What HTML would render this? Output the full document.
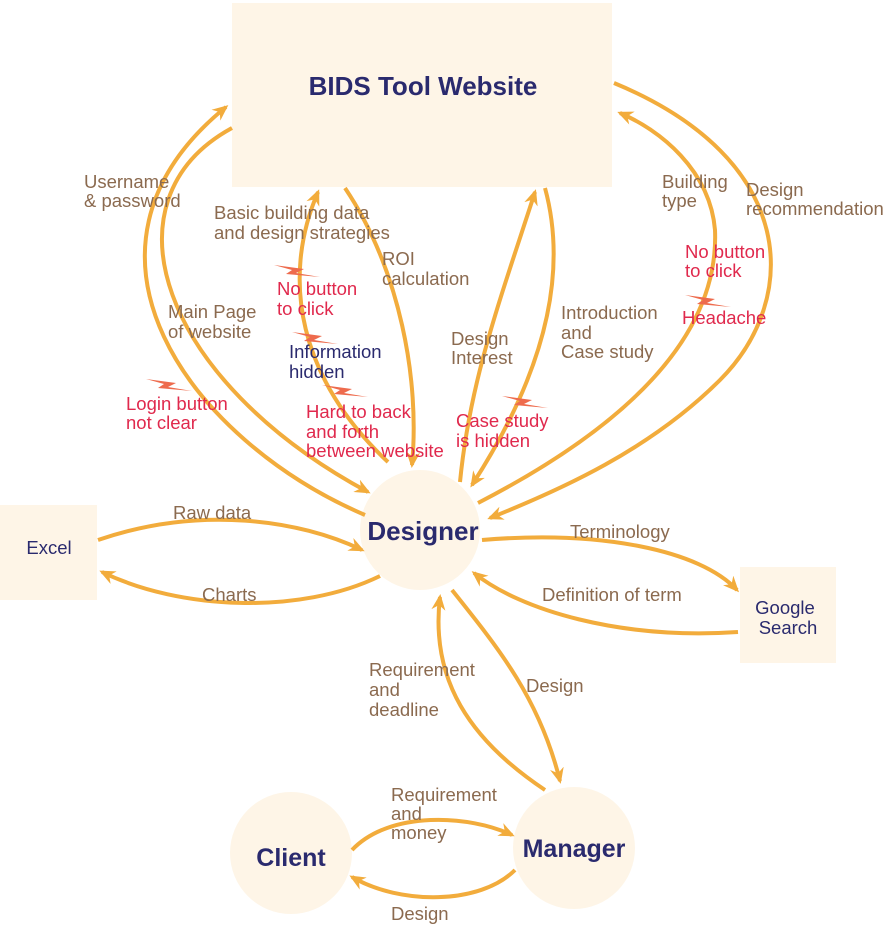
<!DOCTYPE html>
<html><head><style>body{margin:0;background:#fff}svg{display:block}</style></head><body>
<svg width="892" height="930" xmlns="http://www.w3.org/2000/svg" font-family="Liberation Sans, sans-serif">
<defs>
<marker id="a" viewBox="0 0 16 14" refX="13" refY="7" markerWidth="16" markerHeight="14" orient="auto" markerUnits="userSpaceOnUse">
<path d="M0,0 L16,7 L0,14 L5,7 Z" fill="#F2AC3C"/>
</marker>
<g id="z"><polygon points="0,0 30,4 22,8 46,12 12,9 18,5" fill="#EE6B4D"/></g>
</defs>
<rect x="232" y="3" width="380" height="184" fill="#FEF5E7"/>
<rect x="0" y="505" width="97" height="95" fill="#FEF5E7"/>
<rect x="740" y="567" width="96" height="96" fill="#FEF5E7"/>
<circle cx="420" cy="530" r="60" fill="#FEF5E7"/>
<circle cx="291" cy="853" r="61" fill="#FEF5E7"/>
<circle cx="574" cy="848" r="61" fill="#FEF5E7"/>
<g fill="none" stroke="#F2AC3C" stroke-width="4" marker-end="url(#a)">
<path d="M365,515 C190,440 50,250 226,107"/>
<path d="M232,128 C100,200 160,380 368,492"/>
<path d="M388,462 C300,380 280,280 318,192"/>
<path d="M345,188 C400,270 420,380 412,465"/>
<path d="M460,482 C470,380 500,300 535,192"/>
<path d="M545,188 C570,280 540,380 472,485"/>
<path d="M478,503 C600,440 720,350 715,230 C710,170 660,130 620,113"/>
<path d="M614,83 C800,160 800,300 720,380 C650,450 560,490 490,518"/>
<path d="M98,540 C200,505 300,520 362,550"/>
<path d="M380,576 C300,615 180,610 102,572"/>
<path d="M482,540 C600,530 700,550 737,590"/>
<path d="M738,632 C620,640 520,610 474,573"/>
<path d="M452,590 C500,650 540,700 560,781"/>
<path d="M545,790 C470,740 430,680 440,597"/>
<path d="M352,850 C390,810 470,815 512,835"/>
<path d="M515,870 C480,905 400,905 352,877"/>
</g>
<use href="#z" x="146" y="379"/>
<use href="#z" x="274" y="265"/>
<use href="#z" x="292" y="332"/>
<use href="#z" x="322" y="385"/>
<use href="#z" x="502" y="396"/>
<use href="#z" x="685" y="295"/>
<g font-weight="bold" fill="#2A2A6E">
<text x="423" y="95" font-size="26" text-anchor="middle">BIDS Tool Website</text>
<text x="423" y="540" font-size="26" text-anchor="middle">Designer</text>
<text x="291" y="866" font-size="25" text-anchor="middle">Client</text>
<text x="574" y="857" font-size="25" text-anchor="middle">Manager</text>
</g>
<g fill="#2A2A6E" font-size="18.5">
<text x="49" y="554" text-anchor="middle">Excel</text>
<text x="785" y="614" text-anchor="middle">Google</text>
<text x="788" y="634" text-anchor="middle">Search</text>
<text x="289" y="358">Information</text><text x="289" y="378">hidden</text>
</g>
<g fill="#8B6A4F" font-size="18.5">
<text x="84" y="188">Username</text><text x="84" y="207">&amp; password</text>
<text x="214" y="219">Basic building data</text><text x="214" y="239">and design strategies</text>
<text x="382" y="265">ROI</text><text x="382" y="285">calculation</text>
<text x="168" y="318">Main Page</text><text x="168" y="338">of website</text>
<text x="451" y="345">Design</text><text x="451" y="364">Interest</text>
<text x="561" y="319">Introduction</text><text x="561" y="339">and</text><text x="561" y="358">Case study</text>
<text x="662" y="188">Building</text><text x="662" y="207">type</text>
<text x="746" y="196">Design</text><text x="746" y="215">recommendation</text>
<text x="173" y="519">Raw data</text>
<text x="202" y="601">Charts</text>
<text x="570" y="538">Terminology</text>
<text x="542" y="601">Definition of term</text>
<text x="369" y="676">Requirement</text><text x="369" y="696">and</text><text x="369" y="716">deadline</text>
<text x="526" y="692">Design</text>
<text x="391" y="801">Requirement</text><text x="391" y="820">and</text><text x="391" y="839">money</text>
<text x="391" y="920">Design</text>
</g>
<g fill="#E0294D" font-size="18.5">
<text x="277" y="295">No button</text><text x="277" y="315">to click</text>
<text x="126" y="410">Login button</text><text x="126" y="429">not clear</text>
<text x="306" y="418">Hard to back</text><text x="306" y="438">and forth</text><text x="306" y="457">between website</text>
<text x="456" y="427">Case study</text><text x="456" y="447">is hidden</text>
<text x="685" y="258">No button</text><text x="685" y="277">to click</text>
<text x="682" y="324">Headache</text>
</g>
</svg>
</body></html>
